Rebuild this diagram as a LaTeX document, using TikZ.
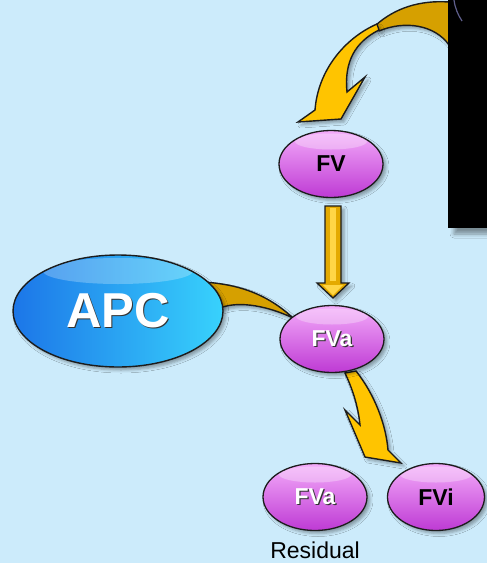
\documentclass[tikz,border=0pt]{standalone}
\usepackage{fontspec}
\setmainfont{Liberation Sans}
\usetikzlibrary{shapes.geometric,shadows.blur,calc}

\definecolor{bgblue}{RGB}{204,235,251}
\definecolor{arrowgold}{RGB}{255,196,0}
\definecolor{darkgold}{RGB}{214,160,0}
\definecolor{shaftside}{RGB}{228,170,0}
\definecolor{shaftlight}{RGB}{255,214,70}
\definecolor{pinkhi}{RGB}{244,172,250}
\definecolor{pinkmid}{RGB}{230,108,245}
\definecolor{pinklo}{RGB}{190,58,212}
\definecolor{apcleft}{RGB}{28,118,232}
\definecolor{apcright}{RGB}{56,210,252}
\definecolor{edge}{RGB}{28,28,28}
\definecolor{rimblue}{RGB}{95,95,140}

% white label text with a small dark offset copy behind it
\newcommand\shadowtext[1]{\makebox[0pt][l]{\kern1.3pt\raisebox{-1.3pt}{\color{black!80}#1}}#1}

\tikzset{
  softshadow/.style={blur shadow={shadow xshift=3pt,shadow yshift=-3pt,
      shadow blur radius=3pt,shadow opacity=35}},
  pinkfactor/.style={ellipse, draw=edge, line width=1.3pt,
      minimum width=104pt, minimum height=67pt, inner sep=0pt,
      top color=pinkhi, middle color=pinkmid, bottom color=pinklo,
      font=\fontsize{23}{25}\selectfont\bfseries, softshadow,
      path picture={\fill[white,opacity=0.3]
        ([yshift=-11pt]path picture bounding box.north)
        ellipse [x radius=36pt, y radius=8pt];}},
  bluefactor/.style={ellipse, draw=edge, line width=1.4pt,
      minimum width=210pt, minimum height=112pt, inner sep=0pt,
      left color=apcleft, right color=apcright, text=white,
      font=\fontsize{49}{51}\selectfont\bfseries, softshadow,
      path picture={\fill[white,opacity=0.25]
        ([yshift=-16pt]path picture bounding box.north)
        ellipse [x radius=75pt, y radius=13pt];}},
  goldband/.style={draw=edge, line width=1.4pt, line join=miter, fill=arrowgold, softshadow},
  backband/.style={draw=edge, line width=1.4pt, line join=round, fill=darkgold, softshadow},
  labeltext/.style={font=\fontsize{23}{25}\selectfont, text=black, inner sep=0pt}
}

\begin{document}
\begin{tikzpicture}[x=1pt,y=-1pt]
\useasboundingbox (0,0) rectangle (487,563);
\fill[bgblue] (0,0) rectangle (487,563);

% centres of the factors
\coordinate (cfv)   at (331,164);
\coordinate (cfva)  at (332,339);
\coordinate (capc)  at (118,311);
\coordinate (cfvab) at (315,497);
\coordinate (cfvi)  at (436,497);

% curved arrow coming out of the panel, down onto FV
\path[backband] (449,2) .. controls (420,0) and (395,8) .. (376,25)
      -- (379,31) .. controls (405,20) and (435,25) .. (449,45) -- cycle;
\path[goldband] (377,24) .. controls (345,38) and (318,70) .. (315,110)
      -- (298,122) -- (341,119) -- (365,77) -- (347,92)
      .. controls (344,62) and (355,42) .. (379,30) -- cycle;

% straight arrow FV -> FVa
\path[draw=edge, line width=1.3pt, softshadow, fill=shaftside]
      ($(cfv)+(-6,42)$) -- ($(cfva)+(-7,-56)$)
      -- ($(cfva)+(-15,-56)$) -- ($(cfva)+(1,-41)$)
      -- ($(cfva)+(17,-56)$) -- ($(cfva)+(9,-56)$)
      -- ($(cfv)+(10,42)$) -- cycle;
\fill[shaftlight] ($(cfv)+(-1,44)$) rectangle ($(cfva)+(4,-58)$);
\fill[shaftlight] ($(cfva)+(-9,-54)$) -- ($(cfva)+(1,-44)$) -- ($(cfva)+(11,-54)$) -- cycle;

% APC binding onto FVa
\path[backband] (203,282) .. controls (235,284) and (265,292) .. (293,318)
      .. controls (270,307) and (240,300) .. (220,308) -- cycle;

% FVa -> FVi
\path[goldband] (345,373) .. controls (352,388) and (358,405) .. (360,425)
      -- (345,410) -- (365,457) -- (401,463) -- (388,450)
      .. controls (386,425) and (375,395) .. (356,371) -- cycle;

% factors
\node[pinkfactor] (fv)   at (cfv)   {FV};
\node[pinkfactor] (fva)  at (cfva)  {\color{white}\shadowtext{FVa}};
\node[bluefactor] (apc)  at (capc)  {\shadowtext{APC}};
\node[pinkfactor] (fvab) at (cfvab) {\color{white}\shadowtext{FVa}};
\node[pinkfactor, minimum width=97pt] (fvi) at (cfvi) {FVi};
\node[labeltext] (res) at ($(fvab.south)+(0,19)$) {Residual};

% dark panel at the top right
\fill[black, blur shadow={shadow xshift=6pt,shadow yshift=-6pt,
      shadow blur radius=4pt,shadow opacity=40}] (448,0) rectangle (495,228);
\draw[rimblue, line width=1.2pt] (454,0) .. controls (455,8) and (458,15) .. (462,21);
\end{tikzpicture}
\end{document}
